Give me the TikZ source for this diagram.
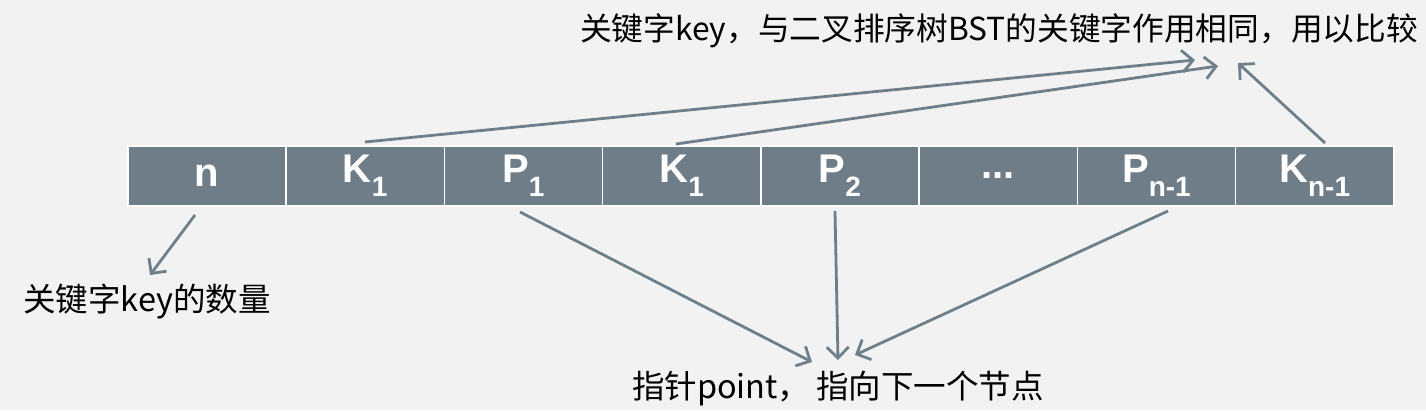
\documentclass[tikz,border=0pt]{standalone}
\usepackage{fontspec}
\setmainfont{Liberation Sans}
\newfontfamily\cjk{Noto Sans CJK SC}
\usetikzlibrary{arrows.meta,positioning}
\definecolor{cellfill}{HTML}{6E7D88}
\definecolor{arrowc}{HTML}{6E7F8A}
\definecolor{bgc}{HTML}{F2F2F2}
\tikzset{
  cell/.style={draw=white, line width=1.6pt, fill=cellfill, minimum width=158.25pt, minimum height=60pt, inner sep=0pt, text=white, font=\fontsize{40pt}{44pt}\selectfont\bfseries, anchor=north west},
  lbl/.style={font=\cjk\fontsize{32.5pt}{36pt}\selectfont, text=black, inner sep=0pt},
  conn/.style={draw=arrowc, line width=2.8pt, -{Straight Barb[length=11pt,width=22pt,line width=2.8pt]}}
}
\newcommand{\sbs}[1]{\raisebox{-0.33em}{\fontsize{28pt}{30pt}\selectfont #1}}
\begin{document}
\begin{tikzpicture}[x=1pt,y=-1pt]
\fill[bgc] (0,0) rectangle (1426,410);
\useasboundingbox (0,0) rectangle (1426,410);
\node[cell] (c1) at (127,145) {n};
\node[cell] (c2) at (285.25,145) {K\sbs{1}};
\node[cell] (c3) at (443.5,145) {P\sbs{1}};
\node[cell] (c4) at (601.75,145) {K\sbs{1}};
\node[cell] (c5) at (760,145) {P\sbs{2}};
\node[cell] (c6) at (918.25,145) {...};
\node[cell] (c7) at (1076.5,145) {P\sbs{n-1}};
\node[cell] (c8) at (1234.75,145) {K\sbs{n-1}};

\node[lbl, font=\cjk\fontsize{31.7pt}{35pt}\selectfont] (top) at (999,31) {关键字key，与二叉排序树BST的关键字作用相同，用以比较};
\node[lbl] (cnt) at (147,302) {关键字key的数量};
\node[lbl] (ptr) at (838,389) {指针point，\hspace{6pt}指向下一个节点};

\coordinate (t1) at (1195,60);
\coordinate (t2) at (1218,66);
\coordinate (t3) at (1238,63);
\coordinate (s1) at (365,142);
\coordinate (s2) at (676,144);
\coordinate (s3) at (1325,143);
\coordinate (b0) at (195,215);
\coordinate (e0) at (150,275);
\coordinate (b1) at (520,212);
\coordinate (b2) at (835,211);
\coordinate (b3) at (1168,211);
\coordinate (e1) at (812,362);
\coordinate (e2) at (838,360);
\coordinate (e3) at (855,355);

\draw[conn] (s1) -- (t1);
\draw[conn] (s2) -- (t2);
\draw[conn] (s3) -- (t3);
\draw[conn] (b0) -- (e0);
\draw[conn] (b1) -- (e1);
\draw[conn] (b2) -- (e2);
\draw[conn] (b3) -- (e3);
\end{tikzpicture}
\end{document}
